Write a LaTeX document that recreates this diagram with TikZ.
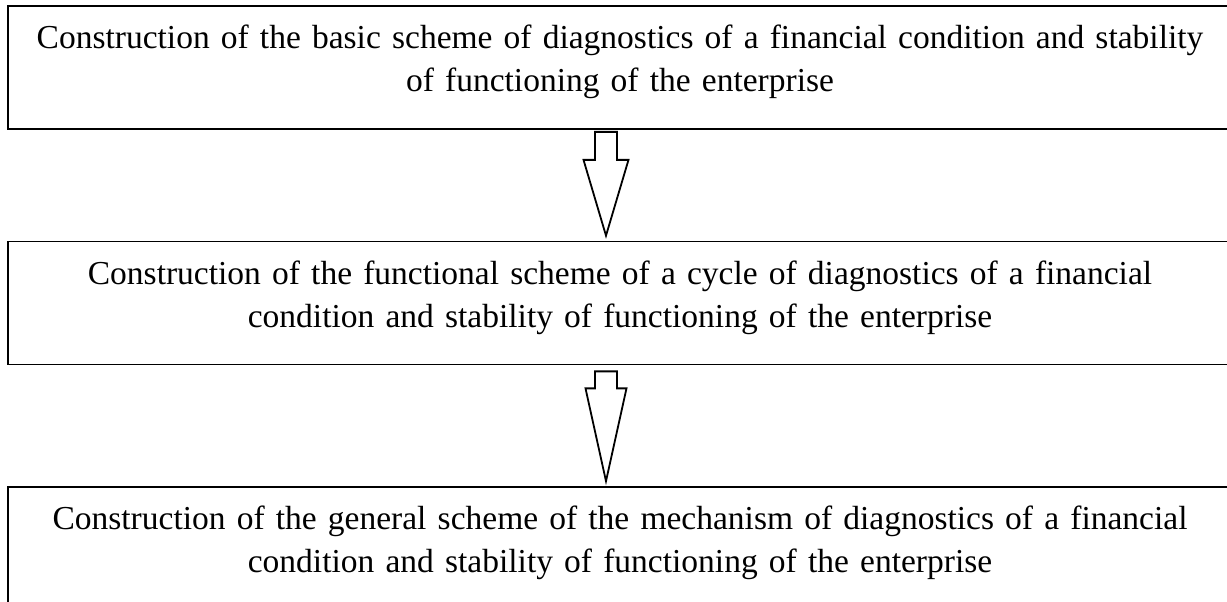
\documentclass[tikz,border=0pt]{standalone}
\usepackage{fontspec}
\setmainfont{Liberation Serif}
\usetikzlibrary{calc}

\begin{document}
\begin{tikzpicture}[
  x=1pt, y=-1pt,
  stage/.style={draw, line width=1.7pt, minimum width=1224pt, minimum height=123pt, text width=1200pt, text depth=61pt, align=center, inner sep=0pt, font=\fontsize{33.5}{43}\selectfont},
  blockarr/.style={draw, line width=1.8pt, fill=white, line join=miter}
]
\useasboundingbox (0,0) rectangle (1227,602);
\clip (0,0) rectangle (1227,602);

% Stage boxes: left edge at x=8, right edge runs off the page
\def\boxx{620}
\node[stage] (basic) at (\boxx, 67.5) {Construction of the basic scheme of diagnostics of a financial condition and stability\\of functioning of the enterprise};
\node[stage] (functional) at (\boxx, 303) {Construction of the functional scheme of a cycle of diagnostics of a financial\\condition and stability of functioning of the enterprise};
\node[stage] (general) at (\boxx, 548.5) {Construction of the general scheme of the mechanism of diagnostics of a financial\\condition and stability of functioning of the enterprise};

% Block arrows between the stages
\foreach \src/\dst/\gap/\shaft/\wing in {basic/functional/2/28/22.5, functional/general/6/17/20.5}{
  \coordinate (top) at ($(\src.south)+(-14,\gap)$);
  \coordinate (tip) at ($(\dst.north)+(-14,-5)$);
  \draw[blockarr] ($(top)+(-11,0)$) -- ($(top)+(11,0)$) -- ($(top)+(11,\shaft)$) -- ($(top)+(\wing,\shaft)$) -- (tip) -- ($(top)+(-\wing,\shaft)$) -- ($(top)+(-11,\shaft)$) -- cycle;
}

\end{tikzpicture}
\end{document}
